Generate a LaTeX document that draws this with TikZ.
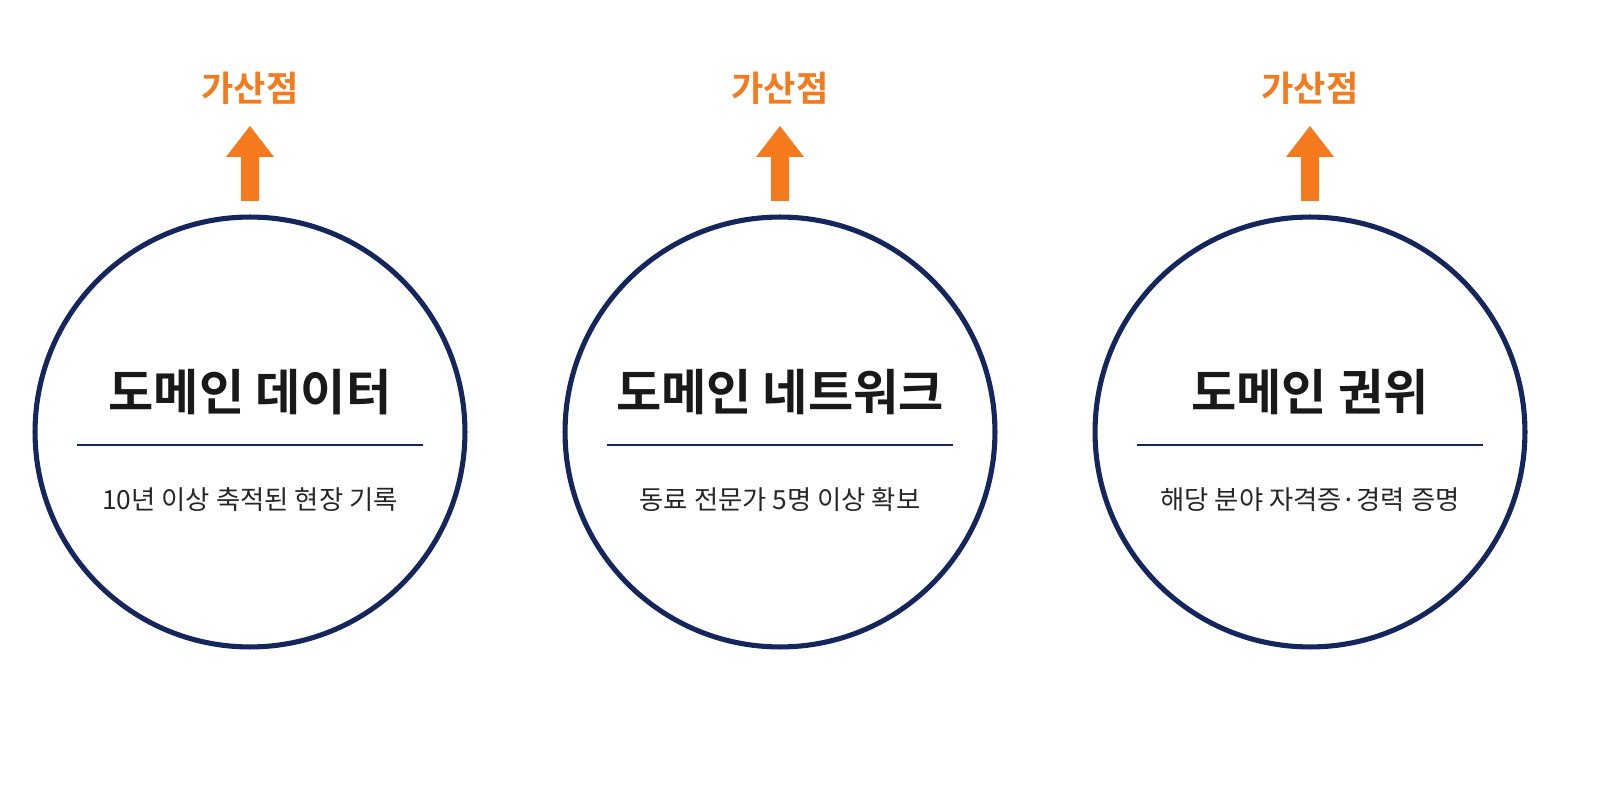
\documentclass[tikz,border=0pt]{standalone}
\usepackage{fontspec}
\newfontfamily\kr{Noto Sans CJK KR}
\newfontfamily\krb{Noto Sans CJK KR Bold}
\definecolor{navy}{HTML}{14265C}
\definecolor{org}{HTML}{F57A1E}
\begin{document}
\begin{tikzpicture}[x=0.02cm,y=-0.02cm,
  circ/.style={circle,draw=navy,line width=2.9pt,minimum size=8.6cm,inner sep=0pt},
  ttl/.style={font=\krb\fontsize{28}{31}\selectfont,text=black!90},
  sub/.style={font=\kr\fontsize{15}{18}\selectfont,text=black!85},
  bonus/.style={font=\krb\fontsize{20}{23}\selectfont,text=org},
  uparrow/.style={fill=org}]
\useasboundingbox (0,0) rectangle (1600,800);
\foreach \i/\x/\t/\s in {a/250/도메인 데이터/10년 이상 축적된 현장 기록,
                          b/780/도메인 네트워크/동료 전문가 5명 이상 확보,
                          c/1310/도메인 권위/해당 분야 자격증·경력 증명}{
  \node[circ] (c\i) at (\x,432) {};
  \node[ttl] (t\i) at (\x,392) {\t};
  \draw[navy,line width=1.5pt] (\x-173,445) -- (\x+173,445);
  \node[sub] (s\i) at (\x,500) {\s};
  \node[bonus] (g\i) at (\x,88) {가산점};
  \fill[uparrow] (\x-9,201) -- (\x-9,157) -- (\x-24,157) -- (\x,126) -- (\x+24,157) -- (\x+9,157) -- (\x+9,201) -- cycle;
}
\end{tikzpicture}
\end{document}
